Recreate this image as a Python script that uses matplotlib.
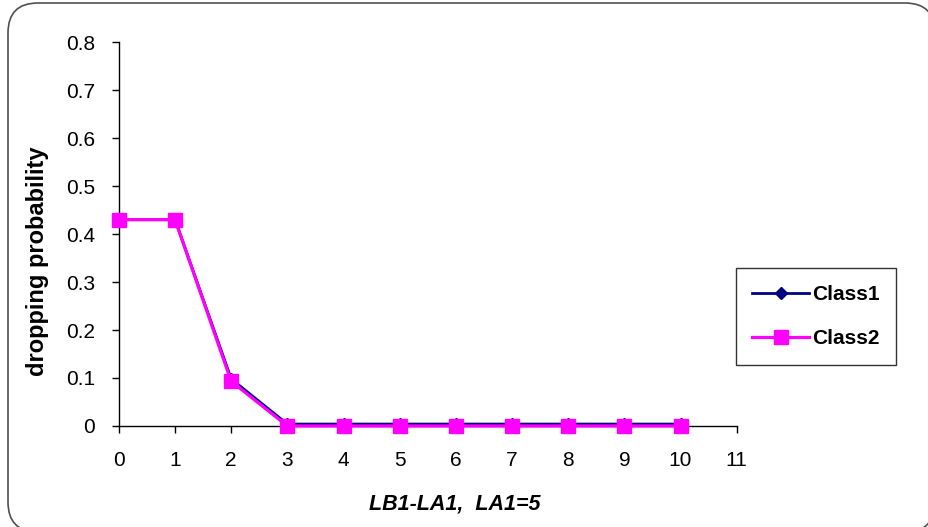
import matplotlib
matplotlib.use("Agg")
import matplotlib.pyplot as plt
from matplotlib.patches import FancyBboxPatch
from matplotlib.transforms import IdentityTransform

plt.rcParams['font.family'] = ['Liberation Sans', 'DejaVu Sans']

x_vals = [0, 1, 2, 3, 4, 5, 6, 7, 8, 9, 10]
class1 = [0.43, 0.43, 0.098, 0.004, 0.004, 0.004, 0.004, 0.004, 0.004, 0.004, 0.004]
class2 = [0.43, 0.43, 0.093, 0.0, 0.0, 0.0, 0.0, 0.0, 0.0, 0.0, 0.0]
x_ticks = list(range(0, 12))
y_ticks = [0, 0.1, 0.2, 0.3, 0.4, 0.5, 0.6, 0.7, 0.8]
y_tick_labels = ['0', '0.1', '0.2', '0.3', '0.4', '0.5', '0.6', '0.7', '0.8']

fig = plt.figure(figsize=(9.29, 5.27), dpi=100)

# rounded outer frame
frame = FancyBboxPatch((8, -5), 927, 529,
                       boxstyle="round,pad=0,rounding_size=30",
                       transform=IdentityTransform(), facecolor='white',
                       edgecolor='#505050', linewidth=1.2, zorder=-5)
fig.patches.append(frame)

ax = fig.add_axes([0.128, 0.1917, 0.665, 0.7283])
ax.set_facecolor('none')

l1, = ax.plot(x_vals, class1, color='#000080', marker='D', markersize=6,
              linewidth=2, label='Class1', clip_on=False, zorder=3)
l2, = ax.plot(x_vals, class2, color='#FF00FF', marker='s', markersize=10,
              linewidth=2.3, label='Class2', clip_on=False, zorder=4)

ax.set_xlim(0, 11)
ax.set_ylim(0, 0.8)
ax.set_xticks(x_ticks)
ax.set_yticks(y_ticks)
ax.set_yticklabels(y_tick_labels)
for s in ['top', 'right']:
    ax.spines[s].set_visible(False)
for s in ['left', 'bottom']:
    ax.spines[s].set_color('black')
    ax.spines[s].set_linewidth(1.0)
ax.tick_params(axis='both', direction='out', length=5, width=1, labelsize=15,
               color='black')
ax.tick_params(axis='x', pad=13)
ax.tick_params(axis='y', pad=12)

ax.set_ylabel('dropping probability', fontsize=17, fontweight='bold')
ax.yaxis.set_label_coords(-0.113, 0.43)
ax.set_xlabel('LB1-LA1,  LA1=5', fontsize=15.5, fontweight='bold',
              fontstyle='italic')
ax.xaxis.set_label_coords(0.544, -0.177)

leg = fig.legend(handles=[l1, l2], loc='upper left',
                 bbox_to_anchor=(0.792, 0.491),
                 prop={'weight': 'bold', 'size': 15},
                 frameon=True, fancybox=False, edgecolor='black',
                 handlelength=2.7, labelspacing=1.2, borderpad=0.8,
                 handletextpad=0.15, borderaxespad=0)
leg.get_frame().set_linewidth(1.0)

fig.savefig('out.png', dpi=100)
